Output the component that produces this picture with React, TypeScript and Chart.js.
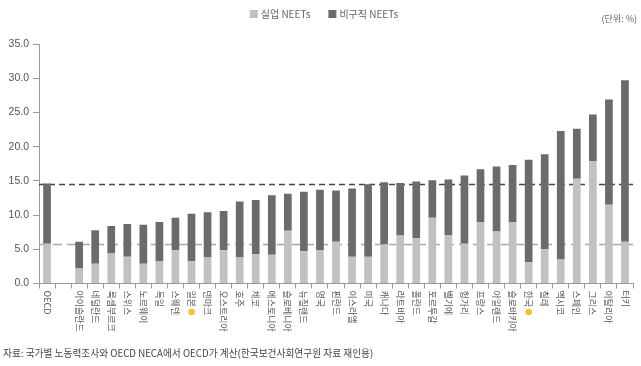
import React, { useEffect, useRef } from 'react';
import { Chart, registerables } from 'chart.js';

Chart.register(...registerables);

const countries = [
  'OECD', '', '아이슬란드', '네덜란드', '룩셈부르크', '스위스', '노르웨이', '독일', '스웨덴', '일본',
  '덴마크', '오스트리아', '호주', '체코', '에스토니아', '슬로베니아', '뉴질랜드', '영국', '핀란드',
  '이스라엘', '미국', '캐나다', '라트비아', '폴란드', '포르투갈', '벨기에', '헝가리', '프랑스',
  '아일랜드', '슬로바키아', '한국', '칠레', '멕시코', '스페인', '그리스', '이탈리아', '터키',
];

const unemployedNeets = [
  5.8, null, 2.2, 2.9, 4.4, 3.9, 2.9, 3.2, 4.9, 3.3,
  3.8, 4.9, 3.8, 4.3, 4.2, 7.7, 4.7, 4.9, 6.1,
  3.9, 3.9, 5.7, 7.0, 6.6, 9.6, 7.1, 5.8, 9.0,
  7.6, 9.0, 3.1, 5.0, 3.5, 15.3, 17.9, 11.5, 6.1,
];

const inactiveNeets = [
  8.8, null, 3.9, 4.9, 4.0, 4.8, 5.7, 5.8, 4.7, 6.9,
  6.6, 5.7, 8.2, 7.9, 8.7, 5.4, 8.7, 8.8, 7.5,
  10.0, 10.6, 9.1, 7.7, 8.3, 5.5, 8.1, 10.0, 7.7,
  9.5, 8.3, 15.0, 13.9, 18.8, 7.3, 6.8, 15.4, 23.6,
];

const highlightedCountries = ['일본', '한국'];
const seriesNames = ['실업 NEETs', '비구직 NEETs'];
const seriesColors = ['#c1c1c3', '#6b6b6b'];
const yMin = 0;
const yMax = 35;
const yStep = 5;
const unitText = '(단위: %)';
const sourceText = '자료: 국가별 노동력조사와 OECD NECA에서 OECD가 계산(한국보건사회연구원 자료 재인용)';

const KFONT = '"Noto Sans CJK KR", "Noto Sans", sans-serif';

const overlayPlugin = {
  id: 'overlay',
  beforeDatasetsDraw(chart: any) {
    const { ctx, chartArea, scales } = chart;
    const y = scales.y;
    const oecdUnemp = unemployedNeets[0] as number;
    const oecdTotal = oecdUnemp + (inactiveNeets[0] as number);
    ctx.save();
    ctx.lineWidth = 1.3;
    ctx.strokeStyle = '#a9a9ab';
    ctx.setLineDash([9, 5]);
    const yl = Math.round(y.getPixelForValue(oecdUnemp)) + 0.5;
    ctx.beginPath();
    ctx.moveTo(chartArea.left, yl);
    ctx.lineTo(chartArea.right, yl);
    ctx.stroke();
    ctx.strokeStyle = '#444444';
    ctx.setLineDash([6, 4]);
    const yd = Math.round(y.getPixelForValue(oecdTotal)) + 0.5;
    ctx.beginPath();
    ctx.moveTo(chartArea.left, yd);
    ctx.lineTo(chartArea.right, yd);
    ctx.stroke();
    ctx.restore();
  },
  afterDraw(chart: any) {
    const { ctx, chartArea, scales } = chart;
    const x = scales.x;
    ctx.save();
    ctx.font = `9px ${KFONT}`;
    ctx.fillStyle = '#555555';
    countries.forEach((name, i) => {
      if (!name) return;
      const px = x.getPixelForValue(i);
      const py = chartArea.bottom + 7;
      ctx.save();
      ctx.translate(px, py);
      ctx.rotate(Math.PI / 2);
      ctx.textAlign = 'left';
      ctx.textBaseline = 'middle';
      ctx.fillText(name, 0, 0);
      const w = ctx.measureText(name).width;
      ctx.restore();
      if (highlightedCountries.includes(name)) {
        ctx.save();
        ctx.fillStyle = '#f3c230';
        ctx.beginPath();
        ctx.arc(px, py + w + 5, 3.3, 0, Math.PI * 2);
        ctx.fill();
        ctx.restore();
      }
    });

    ctx.font = `10px ${KFONT}`;
    ctx.textBaseline = 'middle';
    ctx.textAlign = 'left';
    const box = 8;
    const gapBoxText = 3;
    const gapItems = 18;
    const widths = seriesNames.map((n) => ctx.measureText(n).width);
    const total = widths.reduce((a, w) => a + box + gapBoxText + w, 0) + gapItems * (seriesNames.length - 1);
    let lx = 324 - total / 2;
    const ly = 14;
    seriesNames.forEach((n, i) => {
      ctx.fillStyle = seriesColors[i];
      ctx.fillRect(lx, ly - box / 2, box, box);
      ctx.fillStyle = '#666666';
      ctx.fillText(n, lx + box + gapBoxText, ly);
      lx += box + gapBoxText + widths[i] + gapItems;
    });

    ctx.font = `9px ${KFONT}`;
    ctx.fillStyle = '#666666';
    ctx.textAlign = 'right';
    ctx.fillText(unitText, 637, 19);

    ctx.font = `9.7px ${KFONT}`;
    ctx.fillStyle = '#444444';
    ctx.textAlign = 'left';
    ctx.fillText(sourceText, 3, 353);
    ctx.restore();
  },
};

export default function App() {
  const ref = useRef<HTMLCanvasElement | null>(null);
  useEffect(() => {
    if (!ref.current) return;
    const chart = new Chart(ref.current, {
      type: 'bar',
      data: {
        labels: countries,
        datasets: [
          {
            label: seriesNames[0],
            data: unemployedNeets,
            backgroundColor: seriesColors[0],
            barPercentage: 0.48,
            categoryPercentage: 1,
          },
          {
            label: seriesNames[1],
            data: inactiveNeets,
            backgroundColor: seriesColors[1],
            barPercentage: 0.48,
            categoryPercentage: 1,
          },
        ],
      },
      options: {
        responsive: false,
        animation: false,
        devicePixelRatio: 1,
        layout: { padding: { top: 44, left: 0, right: 8, bottom: 0 } },
        plugins: {
          legend: { display: false },
          tooltip: { enabled: false },
          title: { display: false },
        },
        scales: {
          x: {
            stacked: true,
            offset: true,
            grid: {
              display: true,
              offset: true,
              drawOnChartArea: false,
              drawTicks: true,
              tickLength: 5,
              color: '#9a9a9a',
            },
            border: { display: true, color: '#9a9a9a' },
            ticks: { display: false },
            afterFit: (scale: any) => {
              scale.height = 82.5;
            },
          },
          y: {
            stacked: true,
            min: yMin,
            max: yMax,
            grid: {
              display: true,
              drawOnChartArea: false,
              drawTicks: true,
              tickLength: 6,
              color: '#9a9a9a',
            },
            border: { display: true, color: '#9a9a9a' },
            ticks: {
              stepSize: yStep,
              padding: 4,
              color: '#555555',
              font: { family: '"Liberation Sans", Arial, sans-serif', size: 10.5 },
              callback: (v: any) => Number(v).toFixed(1),
            },
            afterFit: (scale: any) => {
              scale.width = 39;
            },
          },
        },
      },
      plugins: [overlayPlugin],
    });
    return () => chart.destroy();
  }, []);
  return (
    <div style={{ position: 'absolute', left: 0, top: 0, width: 641, height: 366, background: '#fff' }}>
      <canvas ref={ref} width={641} height={366} />
    </div>
  );
}
